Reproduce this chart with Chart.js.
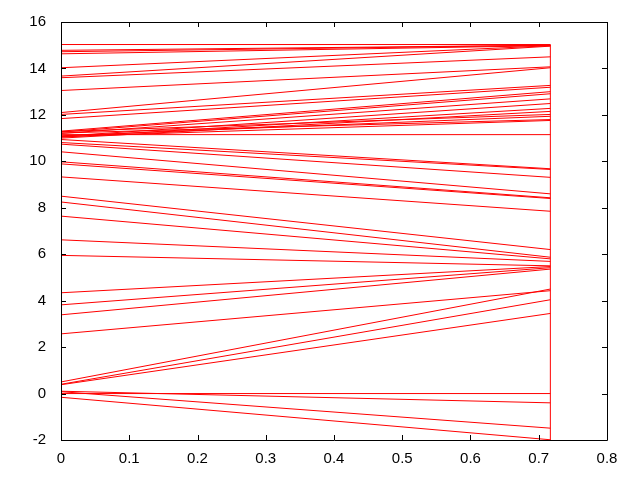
<!DOCTYPE html>
<html>
<head>
<meta charset="utf-8">
<script src="https://cdn.jsdelivr.net/npm/chart.js@4"></script>
<style>
  body { margin: 0; background: #fff; }
  #wrap { width: 640px; height: 480px; }
</style>
</head>
<body>
<div id="wrap"><canvas id="plot"></canvas></div>
<script>
// every segment runs from x = 0 to x = xEnd
const xEnd = 0.717;

// value at x = 0
const lineStart = [
  15.03, 14.78, 14.72, 14.63, 14.03, 13.67, 13.60, 13.05, 12.10, 12.02,
  11.84, 11.30, 11.26, 11.20, 11.08, 11.04, 11.00, 11.28, 11.10, 11.22,
  11.06, 11.15,
  10.94, 10.81, 10.74, 10.41, 9.98, 9.89, 9.33, 8.50, 8.25, 7.64,
  6.62, 5.95, 4.34, 3.82, 3.39,
  2.57, 0.50, 0.40, 0.38,
  0.00, 0.10, 0.08, -0.16,
];

// value at x = xEnd
const lineEnd = [
  15.03, 15.00, 15.00, 14.98, 14.98, 14.96, 14.50, 14.07, 14.03, 13.27,
  13.19, 13.00, 12.91, 12.69, 12.49, 12.28, 12.15, 12.02, 11.94, 11.80,
  11.76, 11.15,
  9.68, 9.65, 9.31, 8.60, 8.43, 8.40, 7.85, 6.20, 5.87, 5.80,
  5.69, 5.50, 5.47, 5.42, 5.36,
  4.43, 4.50, 4.04, 3.45,
  0.00, -0.40, -1.49, -1.99,
];

// closing vertical edge
const edgeX = [0.717, 0.717];
const edgeY = [-2, 15.03];

const datasets = lineStart.map((y0, i) => ({
  data: [{ x: 0, y: y0 }, { x: xEnd, y: lineEnd[i] }],
}));
datasets.push({
  data: edgeX.map((x, i) => ({ x: x, y: edgeY[i] })),
});
datasets.forEach((d) => {
  d.showLine = true;
  d.borderColor = "#ff0000";
  d.borderWidth = 1;
  d.pointRadius = 0;
  d.fill = false;
});

// gnuplot style frame with inward ticks on all four sides
const frame = {
  id: "frame",
  afterDraw(chart) {
    const c = chart.ctx;
    const a = chart.chartArea;
    const xs = chart.scales.x;
    const ys = chart.scales.y;
    const t = 5;
    c.save();
    c.strokeStyle = "#000";
    c.lineWidth = 1;
    c.beginPath();
    c.rect(Math.round(a.left) + 0.5, Math.round(a.top) + 0.5,
      Math.round(a.right - a.left), Math.round(a.bottom - a.top));
    xs.ticks.forEach((tk) => {
      const px = Math.round(xs.getPixelForValue(tk.value)) + 0.5;
      c.moveTo(px, a.bottom); c.lineTo(px, a.bottom - t);
      c.moveTo(px, a.top); c.lineTo(px, a.top + t);
    });
    ys.ticks.forEach((tk) => {
      const py = Math.round(ys.getPixelForValue(tk.value)) + 0.5;
      c.moveTo(a.left, py); c.lineTo(a.left + t, py);
      c.moveTo(a.right, py); c.lineTo(a.right - t, py);
    });
    c.stroke();
    c.restore();
  },
};

new Chart(document.getElementById("plot"), {
  type: "scatter",
  data: { datasets: datasets },
  plugins: [frame],
  options: {
    responsive: true,
    maintainAspectRatio: false,
    animation: false,
    layout: { padding: { top: 22, right: 33, left: 0, bottom: 0 } },
    plugins: {
      legend: { display: false },
      tooltip: { enabled: false },
    },
    scales: {
      x: {
        type: "linear",
        min: 0,
        max: 0.8,
        grid: { display: false, drawTicks: false },
        border: { display: false },
        ticks: {
          stepSize: 0.1,
          color: "#000",
          padding: 10,
          font: { family: "Liberation Sans", size: 15 },
          callback: (v) => (Math.round(v * 10) / 10).toString(),
        },
        afterFit: (s) => {
          s.height = 40;
          s.paddingLeft = 0;
          s.paddingRight = 0;
        },
      },
      y: {
        type: "linear",
        min: -2,
        max: 16,
        grid: { display: false, drawTicks: false },
        border: { display: false },
        ticks: {
          stepSize: 2,
          color: "#000",
          padding: 15,
          font: { family: "Liberation Sans", size: 15 },
        },
        afterFit: (s) => {
          s.width = 61;
          s.paddingTop = 0;
          s.paddingBottom = 0;
        },
      },
    },
  },
});
</script>
</body>
</html>
